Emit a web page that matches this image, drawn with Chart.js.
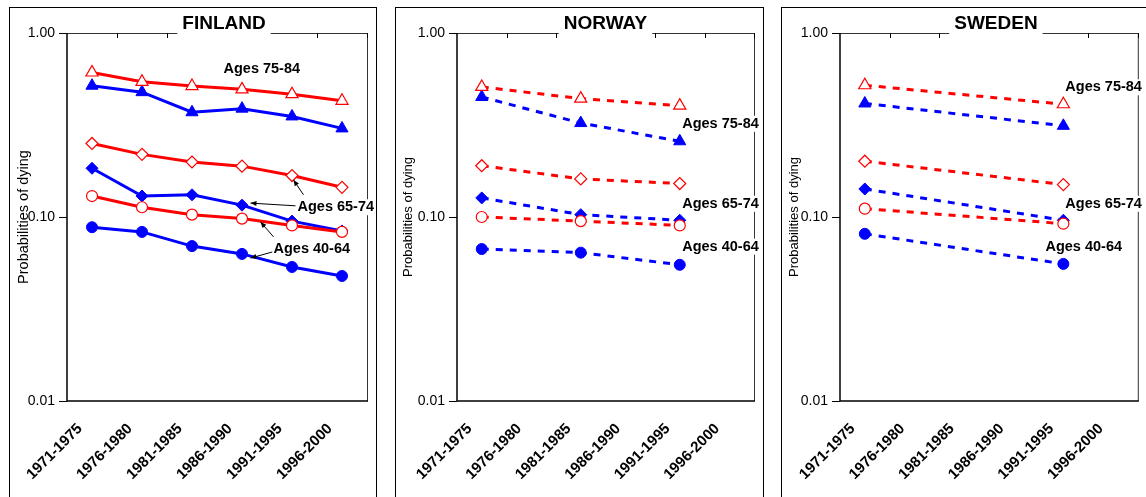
<!DOCTYPE html>
<html>
<head>
<meta charset="utf-8">
<script src="https://cdn.jsdelivr.net/npm/chart.js@4.4.0/dist/chart.umd.min.js"></script>
<style>
  body { margin: 0; background: #fff; width: 1146px; height: 497px; overflow: hidden; position: relative; }
  .panel { position: absolute; border: 1.5px solid #000; box-sizing: border-box; }
  canvas { position: absolute; }
</style>
</head>
<body>
<div class="panel" style="left:9px;top:7px;width:368px;height:500px"></div>
<div class="panel" style="left:395px;top:7px;width:369px;height:500px"></div>
<div class="panel" style="left:781px;top:7px;width:380px;height:500px"></div>
<canvas id="fin" width="367" height="490" style="left:9px;top:7px"></canvas>
<canvas id="nor" width="368" height="490" style="left:395px;top:7px"></canvas>
<canvas id="swe" width="365" height="490" style="left:781px;top:7px"></canvas>
<script>
// categories and tick values
var periods = ['1971-1975', '1976-1980', '1981-1985', '1986-1990', '1991-1995', '1996-2000'];
var yTicks = [0.01, 0.1, 1];

// Finland (red = open markers, blue = filled markers)
var finRed75 = [0.61, 0.543, 0.515, 0.494, 0.465, 0.428];
var finBlue75 = [0.517, 0.477, 0.371, 0.388, 0.352, 0.303];
var finRed65 = [0.251, 0.219, 0.199, 0.189, 0.168, 0.145];
var finBlue65 = [0.184, 0.130, 0.132, 0.116, 0.095, 0.084];
var finRed40 = [0.130, 0.113, 0.103, 0.098, 0.090, 0.083];
var finBlue40 = [0.088, 0.083, 0.0695, 0.063, 0.0535, 0.0478];

// Norway
var norRed75 = [0.509, null, 0.44, null, 0.403, null];
var norBlue75 = [0.449, null, 0.324, null, 0.258, null];
var norRed65 = [0.190, null, 0.161, null, 0.152, null];
var norBlue65 = [0.127, null, 0.103, null, 0.096, null];
var norRed40 = [0.100, null, 0.095, null, 0.090, null];
var norBlue40 = [0.067, null, 0.064, null, 0.055, null];

// Sweden
var sweRed75 = [0.52, null, null, null, 0.41, null];
var sweBlue75 = [0.414, null, null, null, 0.313, null];
var sweRed65 = [0.201, null, null, null, 0.150, null];
var sweBlue65 = [0.142, null, null, null, 0.096, null];
var sweRed40 = [0.111, null, null, null, 0.092, null];
var sweBlue40 = [0.081, null, null, null, 0.0556, null];

var FONT = "'Liberation Sans', Arial, sans-serif";
var RED = '#ff0000', BLUE = '#0000ff';

function series(data, color, style, filled, dashed) {
  var r = style === 'triangle' ? 7 : (style === 'rectRot' ? 6 : 5.5);
  return {
    data: data,
    borderColor: color,
    backgroundColor: filled ? color : '#ffffff',
    borderWidth: 3,
    borderDash: dashed ? [7, 7] : [],
    borderCapStyle: 'butt',
    pointStyle: style,
    pointRadius: r,
    pointBorderWidth: filled ? 1 : 1.2,
    pointBorderColor: color,
    pointBackgroundColor: filled ? color : '#ffffff',
    spanGaps: true,
    tension: 0
  };
}

// draws frame, inner top ticks, panel title and the age labels / arrows
var decor = {
  id: 'decor',
  afterDatasetsDraw: function (chart, args, opts) {
    var ctx = chart.ctx, a = chart.chartArea;
    var xs = chart.scales.x, ys = chart.scales.y;
    ctx.save();
    // frame
    ctx.strokeStyle = '#333';
    ctx.lineWidth = 1;
    ctx.beginPath();
    ctx.moveTo(a.left, a.top + 0.5); ctx.lineTo(a.right + 0.5, a.top + 0.5);
    ctx.lineTo(a.right + 0.5, a.bottom);
    ctx.stroke();
    ctx.strokeStyle = '#000';
    ctx.lineWidth = 1.5;
    ctx.beginPath();
    ctx.moveTo(a.left, a.top); ctx.lineTo(a.left, a.bottom); ctx.lineTo(a.right + 1, a.bottom);
    ctx.stroke();
    // category ticks along the top edge
    ctx.lineWidth = 1;
    ctx.strokeStyle = '#000';
    for (var k = 1; k <= periods.length; k++) {
      var px = Math.round(xs.getPixelForValue(k - 0.5)) + 0.5;
      ctx.beginPath(); ctx.moveTo(px, a.top); ctx.lineTo(px, a.top + 5); ctx.stroke();
    }
    // arrows
    (opts.arrows || []).forEach(function (ar) {
      var x1 = xs.getPixelForValue(ar[0]), y1 = ys.getPixelForValue(ar[1]);
      var x2 = xs.getPixelForValue(ar[2]), y2 = ys.getPixelForValue(ar[3]);
      var ang = Math.atan2(y2 - y1, x2 - x1);
      ctx.strokeStyle = '#000'; ctx.fillStyle = '#000'; ctx.lineWidth = 1;
      ctx.beginPath(); ctx.moveTo(x1, y1); ctx.lineTo(x2, y2); ctx.stroke();
      ctx.beginPath();
      ctx.moveTo(x2, y2);
      ctx.lineTo(x2 - 6 * Math.cos(ang) + 2.5 * Math.sin(ang), y2 - 6 * Math.sin(ang) - 2.5 * Math.cos(ang));
      ctx.lineTo(x2 - 6 * Math.cos(ang) - 2.5 * Math.sin(ang), y2 - 6 * Math.sin(ang) + 2.5 * Math.cos(ang));
      ctx.closePath(); ctx.fill();
    });
    // age labels
    ctx.font = 'bold 14.5px ' + FONT;
    ctx.textBaseline = 'middle';
    ctx.textAlign = 'left';
    (opts.labels || []).forEach(function (lb) {
      var x = xs.getPixelForValue(lb[1]), y = ys.getPixelForValue(lb[2]);
      var w = ctx.measureText(lb[0]).width;
      ctx.fillStyle = '#fff';
      ctx.fillRect(x - 1, y - 8, w + 2, 16);
      ctx.fillStyle = '#000';
      ctx.fillText(lb[0], x, y);
    });
    // title over the top edge
    ctx.font = 'bold 19px ' + FONT;
    ctx.textAlign = 'center';
    var tx = (a.left + a.right) / 2 + (opts.titleDx || 0), ty = a.top - 9;
    var tw = ctx.measureText(opts.title).width;
    ctx.fillStyle = '#fff';
    ctx.fillRect(tx - tw / 2 - 5, ty - 12, tw + 10, 26);
    ctx.fillStyle = '#000';
    ctx.fillText(opts.title, tx, ty);
    ctx.restore();
  }
};

function makeChart(id, sets, padL, padR, titleSize, decorOpts, dashed) {
  var ds = [
    series(sets[0], RED, 'triangle', false, dashed),
    series(sets[2], RED, 'rectRot', false, dashed),
    series(sets[4], RED, 'circle', false, dashed),
    series(sets[1], BLUE, 'triangle', true, dashed),
    series(sets[3], BLUE, 'rectRot', true, dashed),
    series(sets[5], BLUE, 'circle', true, dashed)
  ];
  return new Chart(document.getElementById(id).getContext('2d'), {
    type: 'line',
    data: { labels: periods, datasets: ds },
    plugins: [decor],
    options: {
      responsive: false,
      animation: false,
      devicePixelRatio: 1,
      layout: { padding: { top: 26, right: padR, left: 0, bottom: 0 } },
      plugins: { legend: { display: false }, tooltip: { enabled: false }, decor: decorOpts },
      scales: {
        x: {
          type: 'category',
          offset: true,
          grid: { display: false, drawTicks: false },
          border: { display: false },
          ticks: {
            autoSkip: false, maxRotation: 45, minRotation: 45,
            color: '#000', padding: 19, labelOffset: -12,
            font: { family: FONT, size: 15, weight: 'bold' }
          },
          afterFit: function (s) { s.height = 96; }
        },
        y: {
          type: 'logarithmic',
          min: 0.01, max: 1,
          afterBuildTicks: function (s) { s.ticks = yTicks.map(function (v) { return { value: v }; }); },
          grid: { drawOnChartArea: false, tickLength: 8, color: '#000' },
          border: { display: false },
          ticks: {
            color: '#000', padding: 4,
            font: { family: FONT, size: 14 },
            callback: function (v) { return Number(v).toFixed(2); }
          },
          title: {
            display: true, text: 'Probabilities of dying', color: '#000',
            font: { family: FONT, size: titleSize }, padding: { top: 6, bottom: 0 }
          },
          afterFit: function (s) { s.width = padL; }
        }
      }
    }
  });
}

makeChart('fin', [finRed75, finBlue75, finRed65, finBlue65, finRed40, finBlue40], 58, 9, 14.5, {
  title: 'FINLAND', titleDx: 7,
  labels: [['Ages 75-84', 2.63, 0.637], ['Ages 65-74', 4.11, 0.113], ['Ages 40-64', 3.63, 0.067]],
  arrows: [[4.23, 0.132, 4.03, 0.159], [4.07, 0.115, 3.17, 0.119], [3.63, 0.078, 3.37, 0.094], [3.61, 0.0646, 3.17, 0.0598]]
}, false);

makeChart('nor', [norRed75, norBlue75, norRed65, norBlue65, norRed40, norBlue40], 62, 9, 13, {
  title: 'NORWAY', titleDx: 0,
  labels: [['Ages 75-84', 4.05, 0.321], ['Ages 65-74', 4.05, 0.118], ['Ages 40-64', 4.05, 0.069]]
}, true);

makeChart('swe', [sweRed75, sweBlue75, sweRed65, sweBlue65, sweRed40, sweBlue40], 59, 6, 13, {
  title: 'SWEDEN', titleDx: 7,
  labels: [['Ages 75-84', 4.04, 0.507], ['Ages 65-74', 4.04, 0.118], ['Ages 40-64', 3.64, 0.069]]
}, true);
</script>
</body>
</html>
